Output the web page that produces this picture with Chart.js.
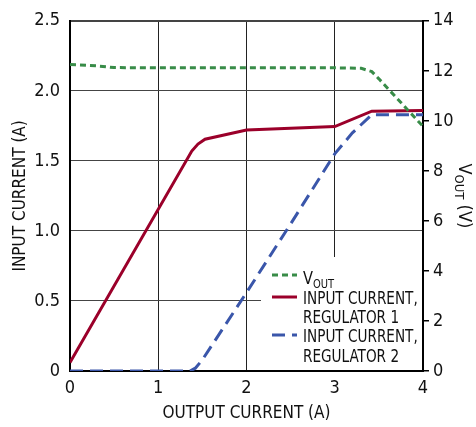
<!DOCTYPE html>
<html lang="en">
<head>
<meta charset="UTF-8">
<title>Input current vs output current</title>
<script src="https://cdn.jsdelivr.net/npm/chart.js"></script>
<style>
  body { margin: 0; background: #fff; }
</style>
</head>
<body>
<canvas id="grafico" width="476" height="427"></canvas>
<script>
// values
var voutX = [0, 0.3, 0.5, 1, 2, 3, 3.3, 3.42, 3.5, 4];
var voutY = [12.25, 12.2, 12.13, 12.12, 12.12, 12.12, 12.1, 11.97, 11.68, 9.78];

var reg1X = [0, 1.38, 1.45, 1.53, 2, 3, 3.42, 4];
var reg1Y = [0.06, 1.57, 1.62, 1.655, 1.72, 1.745, 1.855, 1.86];

var reg2X = [0, 1.36, 1.42, 1.5, 2, 2.5, 3, 3.2, 3.42, 4];
var reg2Y = [0, 0, 0.02, 0.08, 0.56, 1.05, 1.55, 1.7, 1.83, 1.83];

var xTickLabels = ['0', '1', '2', '3', '4'];
var leftTickLabels = ['0', '0.5', '1.0', '1.5', '2.0', '2.5'];
var rightTickLabels = ['0', '2', '4', '6', '8', '10', '12', '14'];

var FONT = "'Liberation Sans Narrow', 'DejaVu Sans Condensed', sans-serif";
var GREEN = 'rgb(56,140,72)';
var RED = 'rgb(155,0,42)';
var BLUE = 'rgb(58,86,170)';

function pares(xs, ys) {
    return xs.map(function (x, i) { return { x: x, y: ys[i] }; });
}

// legend box + right axis title (subscript) drawn by hand
const extras = {
    id: 'extras',
    beforeDatasetsDraw(chart) {
        const a = chart.chartArea;
        const ctx = chart.ctx;
        ctx.save();
        ctx.fillStyle = '#fff';
        ctx.fillRect(a.right - 162, a.bottom - 114, 161, 113);
        ctx.restore();
    },
    afterDraw(chart) {
        const a = chart.chartArea;
        const ctx = chart.ctx;
        ctx.save();
        ctx.fillStyle = '#111';
        ctx.textBaseline = 'alphabetic';

        // legend samples
        const sx0 = a.right - 151, sx1 = a.right - 126;
        function sample(y, color, dash) {
            ctx.beginPath();
            ctx.strokeStyle = color;
            ctx.lineWidth = 3;
            ctx.setLineDash(dash);
            ctx.moveTo(sx0, y);
            ctx.lineTo(sx1, y);
            ctx.stroke();
        }
        sample(a.bottom - 96, GREEN, [6, 4]);
        sample(a.bottom - 74, RED, []);
        sample(a.bottom - 36, BLUE, [13, 7]);
        ctx.setLineDash([]);

        function txt(s, x, y, size, sx) {
            ctx.save();
            ctx.translate(x, y);
            ctx.scale(sx, 1);
            ctx.font = size + 'px ' + FONT;
            ctx.fillText(s, 0, 0);
            const w = ctx.measureText(s).width * sx;
            ctx.restore();
            return w;
        }
        const tx = a.right - 120;
        const wv = txt('V', tx, a.bottom - 87, 18, 0.9);
        txt('OUT', tx + wv, a.bottom - 83, 13, 0.85);
        txt('INPUT CURRENT,', tx, a.bottom - 67, 18, 0.84);
        txt('REGULATOR 1', tx, a.bottom - 48, 18, 0.84);
        txt('INPUT CURRENT,', tx, a.bottom - 29, 18, 0.84);
        txt('REGULATOR 2', tx, a.bottom - 9, 18, 0.84);

        // right axis title, rotated clockwise
        ctx.font = '18px ' + FONT;
        const w1 = ctx.measureText('V').width;
        ctx.font = '13px ' + FONT;
        const w2 = ctx.measureText('OUT').width;
        ctx.font = '18px ' + FONT;
        const w3 = ctx.measureText(' (V)').width;
        const total = w1 + w2 + w3;
        ctx.translate(chart.width - 17, (a.top + a.bottom) / 2 - total / 2);
        ctx.rotate(Math.PI / 2);
        ctx.fillText('V', 0, 0);
        ctx.font = '13px ' + FONT;
        ctx.fillText('OUT', w1, 4);
        ctx.font = '18px ' + FONT;
        ctx.fillText(' (V)', w1 + w2, 0);
        ctx.restore();
    }
};

const dados = {
    datasets: [
        {
            label: 'VOUT',
            data: pares(voutX, voutY),
            yAxisID: 'y2',
            borderColor: GREEN,
            borderWidth: 3,
            borderDash: [6, 4],
            pointRadius: 0,
            fill: false
        },
        {
            label: 'INPUT CURRENT, REGULATOR 1',
            data: pares(reg1X, reg1Y),
            yAxisID: 'y',
            borderColor: RED,
            borderWidth: 3,
            pointRadius: 0,
            fill: false
        },
        {
            label: 'INPUT CURRENT, REGULATOR 2',
            data: pares(reg2X, reg2Y),
            yAxisID: 'y',
            borderColor: BLUE,
            borderWidth: 3,
            borderDash: [13, 7],
            pointRadius: 0,
            fill: false
        }
    ]
};

const config = {
    type: 'line',
    data: dados,
    options: {
        responsive: false,
        animation: false,
        layout: { padding: { top: 19 } },
        plugins: {
            legend: { display: false },
            tooltip: { enabled: false }
        },
        scales: {
            x: {
                type: 'linear',
                min: 0, max: 4,
                afterFit: function (s) { s.height = 56; },
                ticks: {
                    stepSize: 1,
                    padding: 7,
                    color: '#111',
                    font: { family: FONT, size: 18 },
                    callback: function (v, i) { return xTickLabels[i]; }
                },
                grid: {
                    drawTicks: false,
                    color: '#222',
                    lineWidth: function (c) { return c.tick && c.tick.value === 4 ? 2 : 1; }
                },
                border: { color: '#000', width: 2 },
                title: {
                    display: true,
                    text: 'OUTPUT CURRENT (A)',
                    color: '#111',
                    font: { family: FONT, size: 17 },
                    padding: { top: 0, bottom: 3 }
                }
            },
            y: {
                position: 'left',
                min: 0, max: 2.5,
                afterFit: function (s) { s.width = 70; },
                ticks: {
                    stepSize: 0.5,
                    padding: 10,
                    color: '#111',
                    font: { family: FONT, size: 18 },
                    callback: function (v, i) { return leftTickLabels[i]; }
                },
                grid: {
                    drawTicks: false,
                    color: '#444',
                    lineWidth: function (c) { return c.tick && c.tick.value === 2.5 ? 2 : 1; }
                },
                border: { color: '#000', width: 2 },
                title: {
                    display: true,
                    text: 'INPUT CURRENT (A)',
                    color: '#111',
                    font: { family: FONT, size: 17 },
                    padding: { top: 10, bottom: 0 }
                }
            },
            y2: {
                position: 'right',
                min: 0, max: 14,
                afterFit: function (s) { s.width = 53; },
                ticks: {
                    stepSize: 2,
                    padding: 4,
                    color: '#111',
                    font: { family: FONT, size: 18 },
                    callback: function (v, i) { return rightTickLabels[i]; }
                },
                grid: {
                    drawOnChartArea: false,
                    drawTicks: true,
                    tickLength: 6,
                    color: '#000',
                    lineWidth: 1.5
                },
                border: { color: '#000', width: 2 }
            }
        }
    },
    plugins: [extras]
};

let myChart = new Chart(document.getElementById('grafico'), config);
</script>
</body>
</html>
